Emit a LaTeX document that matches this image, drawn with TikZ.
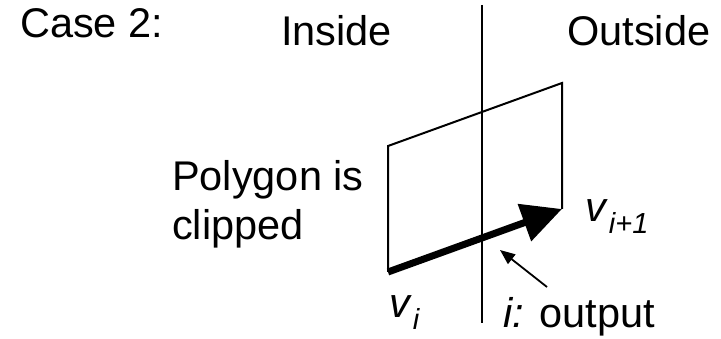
\documentclass[tikz,border=0pt]{standalone}
\usepackage{fontspec}
\setmainfont{Liberation Sans}
\usetikzlibrary{arrows.meta}

% italic sans vertex label with a lowered index
\newcommand{\vlabel}[1]{\textit{v}\kern1pt\raisebox{-0.28em}{\fontsize{29}{29}\selectfont\textit{#1}}}

\begin{document}
\begin{tikzpicture}[
  x=1pt, y=-1pt,
  every node/.style={font=\fontsize{41.5}{44}\selectfont, inner sep=0pt, anchor=base west},
  % --- line styles ---
  edge/.style={line width=2pt},
  bigarr/.style={line width=7pt, -{Triangle[length=40pt, width=38pt]}},
  ptr/.style={line width=1.8pt, -{Triangle[length=15pt, width=12pt]}},
]
\useasboundingbox (0,0) rectangle (721,339);

% ---------- headings ----------
\node (case) at (20,38) {Case 2:};
\node (inside) at (281,46) {Inside};
\node (outside) at (567,46) {Outside};

% ---------- clip boundary ----------
\coordinate (btop) at (482,5);
\coordinate (bbot) at (482,323);
\draw[edge] (btop) -- (bbot);

% ---------- polygon ----------
\coordinate (vi) at (388,272);
\coordinate (vtl) at (388,146);
\coordinate (vtr) at (562,83);
\coordinate (vnext) at (562,209);
\draw[edge] (vi) -- (vtl) -- (vtr) -- (vnext);

% edge v_i -> v_{i+1}
\draw[bigarr] (vi) -- (vnext);

% ---------- labels ----------
\node (poly) at (172,191) {Polygon is};
\node (clip) at (172,240) {clipped};
\node (lnext) at (585,222) {\vlabel{i+1}};
\node (li) at (389,318) {\vlabel{i}};
\node (out) at (503,327) {\textit{i:} output};

% pointer to the crossing
\coordinate (ptail) at (547,287);
\coordinate (phead) at (500,250);
\draw[ptr] (ptail) -- (phead);

\end{tikzpicture}
\end{document}
